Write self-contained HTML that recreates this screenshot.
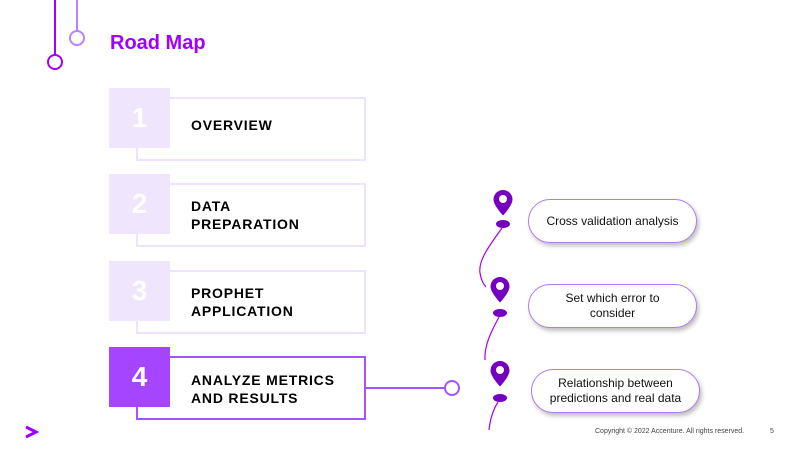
<!DOCTYPE html>
<html><head><style>
body{margin:0;width:800px;height:450px;background:#fff;position:relative;overflow:hidden;font-family:"Liberation Sans",sans-serif}
.a{position:absolute}
.sq{position:absolute;left:109px;width:61px;height:60px;background:#efe5fd;color:#fff;font-weight:bold;font-size:28px;display:flex;align-items:center;justify-content:center}
.rc{position:absolute;left:136px;width:226px;height:60px;border:2px solid #eee3fd;box-sizing:content-box}
.t{position:absolute;left:191px;font-weight:bold;font-size:14px;letter-spacing:0.8px;line-height:18px;color:#000}
.pill{position:absolute;border:1.5px solid #b07af0;border-radius:22px;box-shadow:2px 3px 4px rgba(0,0,0,0.25);display:flex;align-items:center;justify-content:center;text-align:center;font-size:12px;line-height:15px;color:#111;background:#fff}
</style></head><body>
<svg class="a" style="left:0;top:0" width="800" height="450">
<line x1="55" y1="0" x2="55" y2="55" stroke="#a100ff" stroke-width="2"/>
<circle cx="55" cy="62" r="7" fill="none" stroke="#a100ff" stroke-width="2"/>
<line x1="77" y1="0" x2="77" y2="31" stroke="#be82ff" stroke-width="2"/>
<circle cx="77" cy="38" r="7" fill="none" stroke="#be82ff" stroke-width="2"/>
<line x1="364" y1="388" x2="445" y2="388" stroke="#a055ff" stroke-width="2"/>
<circle cx="452" cy="388" r="7" fill="#fff" stroke="#a055ff" stroke-width="2"/>
<g fill="#7500c0">
<path d="M503 190a9.5 9.5 0 0 1 9.5 9.5c0 6-9.5 16-9.5 16s-9.5-10-9.5-16a9.5 9.5 0 0 1 9.5-9.5z"/><circle cx="503" cy="199" r="4" fill="#fff"/><ellipse cx="503" cy="224" rx="7" ry="4"/>
<path d="M500 277a9.5 9.5 0 0 1 9.5 9.5c0 6-9.5 16-9.5 16s-9.5-10-9.5-16a9.5 9.5 0 0 1 9.5-9.5z"/><circle cx="500" cy="286" r="4" fill="#fff"/><ellipse cx="500" cy="313" rx="7" ry="4"/>
<path d="M500 361a9.5 9.5 0 0 1 9.5 9.5c0 6-9.5 16-9.5 16s-9.5-10-9.5-16a9.5 9.5 0 0 1 9.5-9.5z"/><circle cx="500" cy="370" r="4" fill="#fff"/><ellipse cx="500" cy="398" rx="7" ry="4"/>
</g>
<g fill="none" stroke="#a100ff" stroke-width="1.2">
<path d="M502 228 C490 245 478 260 480 273 C481 280 484 285 486 287"/>
<path d="M499 317 C492 330 484 345 485 360"/>
<path d="M498 402 C493 410 490 420 489 430"/>
</g>
<path d="M26 427 L36 432 L26 437" fill="none" stroke="#a100ff" stroke-width="3"/>
</svg>
<div class="a" style="left:110px;top:32px;color:#a100ff;font-weight:bold;font-size:20px">Road Map</div>
<div class="rc" style="top:97px"></div><div class="sq" style="top:88px">1</div>
<div class="t" style="top:116px">OVERVIEW</div>
<div class="rc" style="top:183px"></div><div class="sq" style="top:174px">2</div>
<div class="t" style="top:197px">DATA<br>PREPARATION</div>
<div class="rc" style="top:270px"></div><div class="sq" style="top:261px">3</div>
<div class="t" style="top:284px">PROPHET<br>APPLICATION</div>
<div class="rc" style="top:356px;border-color:#a055ff"></div><div class="sq" style="top:347px;background:#a645ff">4</div>
<div class="t" style="top:371px">ANALYZE METRICS<br>AND RESULTS</div>
<div class="pill" style="left:528px;top:199px;width:167px;height:42px">Cross validation analysis</div>
<div class="pill" style="left:528px;top:284px;width:167px;height:42px">Set which error to<br>consider</div>
<div class="pill" style="left:531px;top:369px;width:167px;height:42px">Relationship between<br>predictions and real data</div>
<div class="a" style="left:595px;top:428px;font-size:7px;color:#444">Copyright © 2022 Accenture. All rights reserved.</div>
<div class="a" style="left:770px;top:428px;font-size:7px;color:#444">5</div>
</body></html>
